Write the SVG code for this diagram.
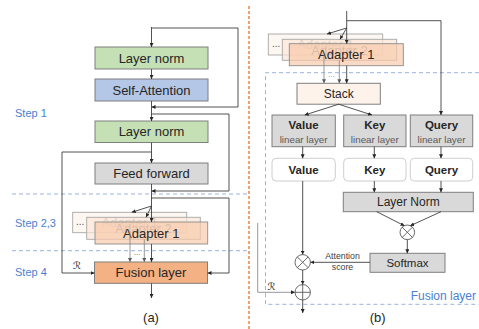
<svg xmlns="http://www.w3.org/2000/svg" width="479" height="329" viewBox="0 0 479 329">
<defs>
<marker id="ah" viewBox="0 0 10 10" refX="10" refY="5" markerWidth="4" markerHeight="4" markerUnits="userSpaceOnUse" orient="auto">
<path d="M0,0 L10,5 L0,10 z" fill="#262626"/>
</marker>
<marker id="ahg" viewBox="0 0 10 10" refX="10" refY="5" markerWidth="4" markerHeight="4" markerUnits="userSpaceOnUse" orient="auto">
<path d="M0,0 L10,5 L0,10 z" fill="#595959"/>
</marker>
<style>
.box{stroke:#7f7f7f;stroke-width:1}
.t{font-family:"Liberation Sans",Arial,sans-serif;font-size:13px;fill:#262626;text-anchor:middle}
.ts{font-family:"Liberation Sans",Arial,sans-serif;font-size:12px;fill:#262626;text-anchor:middle}
.tb{font-family:"Liberation Sans",Arial,sans-serif;font-size:11.5px;font-weight:bold;fill:#262626;text-anchor:middle}
.tl{font-family:"Liberation Sans",Arial,sans-serif;font-size:9.8px;fill:#595959;text-anchor:middle}
.step{font-family:"Liberation Sans",Arial,sans-serif;font-size:11px;fill:#4a7fd0}
.cap{font-family:"Liberation Sans",Arial,sans-serif;font-size:13px;fill:#262626;text-anchor:middle}
.ln{fill:none;stroke:#404040;stroke-width:0.9}
.lg{fill:none;stroke:#8c8c8c;stroke-width:0.9}
.dash{fill:none;stroke:#8faadc;stroke-width:0.9;stroke-dasharray:4,3}
.r{font-family:"DejaVu Sans","DejaVu Serif",serif;font-size:10px;fill:#262626}
.fade{font-family:"Liberation Sans",Arial,sans-serif;font-size:13px;fill:#9a9a9a;text-anchor:middle}
</style>
</defs>
<rect width="479" height="329" fill="#ffffff"/>

<!-- separators -->
<line x1="249" y1="6" x2="249" y2="329" stroke="#ed7d31" stroke-width="1.4" stroke-dasharray="3,2"/>
<line class="dash" x1="12" y1="194" x2="248" y2="194"/>
<line class="dash" x1="12" y1="250.7" x2="248" y2="250.7"/>
<path class="dash" d="M479,72.7 H265.5 V304.3 H479"/>

<!-- labels -->
<text class="step" x="15" y="117">Step 1</text>
<text class="step" x="15" y="226.5">Step 2,3</text>
<text class="step" x="15" y="276">Step 4</text>
<text class="cap" x="151" y="322">(a)</text>
<text class="cap" x="377.7" y="322">(b)</text>
<text x="476" y="300" font-family="Liberation Sans,Arial,sans-serif" font-size="12" fill="#4a7fd0" text-anchor="end">Fusion layer</text>

<!-- LEFT PANEL NODES -->
<g id="ln1"><rect class="box" x="95" y="47" width="113" height="22" fill="#c5e0b4"/><text class="t" x="151.5" y="62.5">Layer norm</text></g>
<g id="sa"><rect class="box" x="95" y="79" width="113" height="22" fill="#b4c7e7"/><text class="t" x="151.5" y="94.5">Self-Attention</text></g>
<g id="ln2"><rect class="box" x="95" y="121" width="113" height="21.5" fill="#c5e0b4"/><text class="t" x="151.5" y="136.3">Layer norm</text></g>
<g id="ff"><rect class="box" x="95" y="163" width="113" height="21" fill="#d9d9d9"/><text class="t" x="151.5" y="178">Feed forward</text></g>
<g id="adaptersA">
<rect x="72.7" y="212.3" width="114" height="20.4" fill="#fdf7f2" stroke="#a6a6a6" stroke-width="0.9"/>
<text x="76" y="225" font-family="Liberation Sans,Arial,sans-serif" font-size="10" fill="#595959">...</text>
<text class="fade" x="129.7" y="227">Adapter 1</text>
<rect x="86.7" y="217.3" width="113.6" height="22" fill="#fbe5d6" fill-opacity="0.7" stroke="#a6a6a6" stroke-width="0.9"/>
<text class="fade" x="143.5" y="233">Adapter 2</text>
<rect x="95" y="222" width="112.7" height="22" fill="#f8cbad" fill-opacity="0.7" stroke="#8c8c8c" stroke-width="0.9"/>
<text class="t" x="151.3" y="237.5">Adapter 1</text>
</g>
<g id="fusionA"><rect class="box" x="94.5" y="262" width="113" height="21.3" fill="#f4b183"/><text class="t" x="151" y="277.2">Fusion layer</text></g>

<!-- RIGHT PANEL NODES -->
<g id="adaptersB">
<rect x="268.3" y="34" width="114.4" height="21" fill="#fdf7f2" stroke="#a6a6a6" stroke-width="0.9"/>
<text x="272" y="47" font-family="Liberation Sans,Arial,sans-serif" font-size="10" fill="#595959">...</text>
<text class="fade" x="325.5" y="49">Adapter 1</text>
<rect x="282.3" y="39.3" width="114.4" height="21" fill="#fbe5d6" fill-opacity="0.7" stroke="#a6a6a6" stroke-width="0.9"/>
<text class="fade" x="339.5" y="54.5">Adapter 2</text>
<rect x="289.3" y="43.7" width="114" height="22" fill="#f8cbad" fill-opacity="0.7" stroke="#8c8c8c" stroke-width="0.9"/>
<text class="t" x="346.3" y="59.2">Adapter 1</text>
</g>
<g id="stack"><rect class="box" x="297" y="83.3" width="83.3" height="20.9" fill="#fdf3eb"/><text class="ts" x="338.7" y="98">Stack</text></g>
<g id="vlin"><rect class="box" x="272" y="115" width="63.3" height="31.7" fill="#d9d9d9"/><text class="tb" x="303.6" y="129.3">Value</text><text class="tl" x="303.6" y="142.7">linear layer</text></g>
<g id="klin"><rect class="box" x="343.7" y="115" width="62.3" height="31.7" fill="#d9d9d9"/><text class="tb" x="374.8" y="129.3">Key</text><text class="tl" x="374.8" y="142.7">linear layer</text></g>
<g id="qlin"><rect class="box" x="410.3" y="115" width="62.4" height="31.7" fill="#d9d9d9"/><text class="tb" x="441.5" y="129.3">Query</text><text class="tl" x="441.5" y="142.7">linear layer</text></g>
<g id="vout"><rect x="272" y="158.3" width="63.3" height="22.7" rx="4" fill="#ffffff" stroke="#c8c8c8" stroke-width="0.9"/><text class="tb" x="303.6" y="174">Value</text></g>
<g id="kout"><rect x="343.7" y="158.3" width="62.3" height="22.7" rx="4" fill="#ffffff" stroke="#c8c8c8" stroke-width="0.9"/><text class="tb" x="374.8" y="174">Key</text></g>
<g id="qout"><rect x="410.3" y="158.3" width="62.4" height="22.7" rx="4" fill="#ffffff" stroke="#c8c8c8" stroke-width="0.9"/><text class="tb" x="441.5" y="174">Query</text></g>
<g id="lnorm"><rect class="box" x="343.3" y="192.3" width="130" height="19.4" fill="#d9d9d9"/><text class="ts" x="408.3" y="206.3">Layer Norm</text></g>
<g id="mul1"><circle cx="407.3" cy="232.3" r="7.3" fill="#ffffff" stroke="#595959" stroke-width="0.9"/><path d="M402.1,227.1 L412.5,237.5 M412.5,227.1 L402.1,237.5" stroke="#595959" stroke-width="0.9"/></g>
<g id="softmax"><rect class="box" x="370" y="253.3" width="75" height="19" fill="#d9d9d9"/><text x="407.5" y="267" font-family="Liberation Sans,Arial,sans-serif" font-size="11.5" fill="#262626" text-anchor="middle">Softmax</text></g>
<g id="mul2"><circle cx="302.7" cy="262.3" r="7.7" fill="#ffffff" stroke="#595959" stroke-width="0.9"/><path d="M297.3,256.9 L308.1,267.7 M308.1,256.9 L297.3,267.7" stroke="#595959" stroke-width="0.9"/></g>
<g id="plus"><circle cx="302.7" cy="292.3" r="7.7" fill="#ffffff" stroke="#595959" stroke-width="0.9"/><path d="M295,292.3 H310.4 M302.7,284.6 V300" stroke="#595959" stroke-width="0.9"/></g>

<!-- CONNECTORS -->
<g id="connectors">
<!-- left -->
<line class="ln" x1="151.5" y1="27" x2="151.5" y2="47" marker-end="url(#ah)"/>
<path class="ln" d="M151.5,28 H238 V107 H151.5" marker-end="url(#ah)"/>
<line class="ln" x1="151.5" y1="69" x2="151.5" y2="79" marker-end="url(#ah)"/>
<line class="ln" x1="151.5" y1="101" x2="151.5" y2="121" marker-end="url(#ah)"/>
<path class="ln" d="M151.5,114 H229 V191 H151.5" marker-end="url(#ah)"/>
<line class="ln" x1="151.5" y1="142.5" x2="151.5" y2="163" marker-end="url(#ah)"/>
<path class="ln" d="M151.5,152 H62 V273 H94.5" marker-end="url(#ah)"/>
<line class="ln" x1="151.5" y1="184" x2="151.5" y2="222" marker-end="url(#ah)"/>
<path class="ln" d="M151.5,198 H229 V273 H207.5" marker-end="url(#ah)"/>
<line class="ln" x1="151.5" y1="206" x2="131.7" y2="212.3" marker-end="url(#ah)"/>
<line class="ln" x1="151.5" y1="206" x2="146" y2="217.3" marker-end="url(#ah)"/>
<line class="lg" x1="130" y1="232.7" x2="130" y2="262" marker-end="url(#ahg)"/>
<line class="lg" x1="144.3" y1="239.3" x2="144.3" y2="262" marker-end="url(#ahg)"/>
<line class="ln" x1="151.5" y1="244" x2="151.5" y2="262" marker-end="url(#ah)"/>
<text x="137.2" y="255" font-family="Liberation Sans,Arial,sans-serif" font-size="8" fill="#595959" text-anchor="middle">...</text>
<line class="ln" x1="151.5" y1="283.3" x2="151.5" y2="298" marker-end="url(#ah)"/>
<text class="r" x="73" y="269">ℛ</text>
<!-- right -->
<line class="ln" x1="346.7" y1="11" x2="346.7" y2="43.7" marker-end="url(#ah)"/>
<path class="ln" d="M346.7,20.7 H441 V115" marker-end="url(#ah)"/>
<line class="ln" x1="346.7" y1="28" x2="327" y2="34" marker-end="url(#ah)"/>
<line class="ln" x1="346.7" y1="28" x2="340" y2="39.3" marker-end="url(#ah)"/>
<line class="lg" x1="324" y1="55" x2="324" y2="83.3" marker-end="url(#ahg)"/>
<line class="lg" x1="339.3" y1="60.3" x2="339.3" y2="83.3" marker-end="url(#ahg)"/>
<line class="ln" x1="346.7" y1="65.7" x2="346.7" y2="83.3" marker-end="url(#ah)"/>
<text x="331.5" y="77" font-family="Liberation Sans,Arial,sans-serif" font-size="8" fill="#8c8c8c" text-anchor="middle">...</text>
<line class="ln" x1="338.7" y1="104.2" x2="304.7" y2="115" marker-end="url(#ah)"/>
<line class="ln" x1="338.7" y1="104.2" x2="372" y2="115" marker-end="url(#ah)"/>
<line class="ln" x1="302.7" y1="146.7" x2="302.7" y2="158.3" marker-end="url(#ah)"/>
<line class="ln" x1="374.3" y1="146.7" x2="374.3" y2="158.3" marker-end="url(#ah)"/>
<line class="ln" x1="441" y1="146.7" x2="441" y2="158.3" marker-end="url(#ah)"/>
<line class="ln" x1="374.3" y1="181" x2="374.3" y2="192.3" marker-end="url(#ah)"/>
<line class="ln" x1="441" y1="181" x2="441" y2="192.3" marker-end="url(#ah)"/>
<line class="ln" x1="376.7" y1="211.7" x2="404.5" y2="225.8" marker-end="url(#ah)"/>
<line class="ln" x1="441" y1="211.7" x2="410.2" y2="225.8" marker-end="url(#ah)"/>
<line class="ln" x1="407.3" y1="239.6" x2="407.3" y2="253.3" marker-end="url(#ah)"/>
<line class="ln" x1="370" y1="262.3" x2="310.4" y2="262.3" marker-end="url(#ah)"/>
<text x="342.5" y="259" font-family="Liberation Sans,Arial,sans-serif" font-size="8.8" fill="#404040" text-anchor="middle">Attention</text>
<text x="342.5" y="269.5" font-family="Liberation Sans,Arial,sans-serif" font-size="8.8" fill="#404040" text-anchor="middle">score</text>
<line class="ln" x1="302.7" y1="181" x2="302.7" y2="254.6" marker-end="url(#ah)"/>
<line class="ln" x1="302.7" y1="270" x2="302.7" y2="284.6" marker-end="url(#ah)"/>
<path class="lg" d="M257.7,223 V292.3 H295" marker-end="url(#ah)"/>
<text class="r" x="267.5" y="290">ℛ</text>
<line class="ln" x1="302.7" y1="300" x2="302.7" y2="313" marker-end="url(#ah)"/>
</g>
</svg>
